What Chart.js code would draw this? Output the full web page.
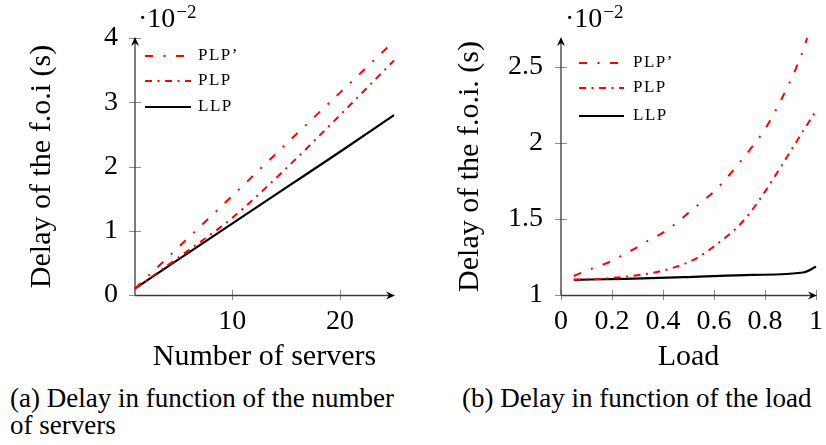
<!DOCTYPE html>
<html>
<head>
<meta charset="utf-8">
<script src="https://cdn.jsdelivr.net/npm/chart.js@4/dist/chart.umd.min.js"></script>
<style>
  html, body { margin: 0; padding: 0; background: #fff; }
  body { width: 826px; height: 445px; position: relative; overflow: hidden; font-family: 'Liberation Serif', serif; }
  canvas { position: absolute; top: 0; }
  #serversChart { left: 0; }
  #loadChart { left: 413px; }
  .caption { position: absolute; font-size: 27px; line-height: 27px; color: #000; white-space: nowrap; }
</style>
</head>
<body>
<canvas id="serversChart" width="413" height="380"></canvas>
<canvas id="loadChart" width="420" height="380"></canvas>
<div class="caption" style="left:10px; top:385px;">(a) Delay in function of the number<br>of servers</div>
<div class="caption" style="left:462px; top:385px;">(b) Delay in function of the load</div>
<script>
// delay (x 10^-2 s) against the number of servers
const servers = [1, 5, 10, 15, 20, 25];
const serversPlpPrime = [0.1, 0.74, 1.54, 2.35, 3.15, 3.95];
const serversPlp = [0.1, 0.58, 1.2, 1.97, 2.8, 3.65];
const serversLlp = [0.1, 0.55, 1.11, 1.67, 2.23, 2.8];
const serversXTicks = [10, 20];
const serversYTicks = [0, 1, 2, 3, 4];

// delay (x 10^-2 s) against the load
const loads = [0.05, 0.1, 0.15, 0.2, 0.25, 0.3, 0.35, 0.4, 0.45, 0.5,
               0.55, 0.6, 0.65, 0.7, 0.75, 0.8, 0.85, 0.9, 0.95, 1.0];
const loadsPlpPrime = [0.05, 0.1, 0.15, 0.2, 0.25, 0.3, 0.35, 0.4, 0.45, 0.5,
                       0.55, 0.6, 0.65, 0.7, 0.75, 0.8, 0.85, 0.9, 0.95, 0.965];
const loadPlpPrime = [1.125, 1.16, 1.19, 1.225, 1.27, 1.315, 1.365, 1.41, 1.47, 1.54,
                      1.61, 1.68, 1.77, 1.87, 1.975, 2.09, 2.24, 2.41, 2.61, 2.69];
const loadPlp = [1.10, 1.103, 1.106, 1.112, 1.12, 1.13, 1.143, 1.16, 1.185, 1.215,
                 1.26, 1.32, 1.385, 1.46, 1.56, 1.68, 1.81, 1.945, 2.08, 2.21];
const loadsLlp = [0.05, 0.25, 0.5, 0.75, 0.95, 1.0];
const loadLlp = [1.10, 1.106, 1.118, 1.132, 1.148, 1.185];
const loadXTicks = [0, 0.2, 0.4, 0.6, 0.8, 1];
const loadYTicks = [1, 1.5, 2, 2.5];

const seriesNames = ['PLP\u2019', 'PLP', 'LLP'];

const SERIF = "'Liberation Serif'";
Chart.defaults.font.family = SERIF + ', serif';
Chart.defaults.color = '#000';

const toPoints = (xs, ys) => xs.map((x, i) => ({ x: x, y: ys[i] }));

function makeDatasets(plpPrime, plp, llp) {
  const base = { pointRadius: 0, fill: false, clip: false, cubicInterpolationMode: 'monotone' };
  return [
    Object.assign({}, base, { label: seriesNames[0], data: plpPrime, borderColor: '#ff0000', borderWidth: 2, borderDash: [8, 10.5, 2, 10.5] }),
    Object.assign({}, base, { label: seriesNames[1], data: plp, borderColor: '#ff0000', borderWidth: 2, borderDash: [7, 5.5, 2, 5.5] }),
    Object.assign({}, base, { label: seriesNames[2], data: llp, borderColor: '#000000', borderWidth: 2.2 })
  ];
}

function arrowHead(ctx, x, y, dx, dy) {
  const nx = -dy, ny = dx;
  ctx.beginPath();
  ctx.moveTo(x + dx, y + dy);
  ctx.lineTo(x - 8 * dx + 4 * nx, y - 8 * dy + 4 * ny);
  ctx.lineTo(x - 5 * dx, y - 5 * dy);
  ctx.lineTo(x - 8 * dx - 4 * nx, y - 8 * dy - 4 * ny);
  ctx.closePath();
  ctx.fill();
}

// axes with arrows, ticks crossing the axis lines, the 10^-2 factor and the legend
const axisDecor = {
  id: 'axisDecor',
  beforeDatasetsDraw(chart) {
    const { ctx, chartArea: ca, scales: { x, y } } = chart;
    ctx.save();
    ctx.strokeStyle = '#8c8c8c';
    ctx.lineWidth = 1;
    y.ticks.forEach(t => {
      const p = Math.round(y.getPixelForValue(t.value)) + 0.5;
      ctx.beginPath(); ctx.moveTo(ca.left - 6, p); ctx.lineTo(ca.left + 6, p); ctx.stroke();
    });
    x.ticks.forEach(t => {
      const p = Math.round(x.getPixelForValue(t.value)) + 0.5;
      ctx.beginPath(); ctx.moveTo(p, ca.bottom - 5); ctx.lineTo(p, ca.bottom + 5); ctx.stroke();
    });
    ctx.strokeStyle = '#3a3a3a';
    ctx.lineWidth = 1.3;
    ctx.beginPath();
    ctx.moveTo(ca.left, ca.bottom + 0.5);
    ctx.lineTo(ca.right - 3, ca.bottom + 0.5);
    ctx.moveTo(ca.left, ca.bottom);
    ctx.lineTo(ca.left, ca.top + 3);
    ctx.stroke();
    ctx.fillStyle = '#000';
    arrowHead(ctx, ca.right, ca.bottom + 0.5, 1, 0);
    arrowHead(ctx, ca.left, ca.top, 0, -1);
    ctx.restore();
  },
  afterDraw(chart, args, opts) {
    const { ctx, chartArea: ca } = chart;
    ctx.save();
    ctx.fillStyle = '#000';
    ctx.textBaseline = 'alphabetic';
    ctx.font = '28px ' + SERIF;
    const ex = ca.left + opts.expDx;
    ctx.fillText('\u00b710', ex, 27);
    const w = ctx.measureText('\u00b710').width;
    ctx.font = '19px ' + SERIF;
    ctx.fillText('\u22122', ex + w + 1, 18);

    ctx.font = '17px ' + SERIF;
    ctx.letterSpacing = '1.5px';
    ctx.textBaseline = 'middle';
    chart.data.datasets.forEach((ds, i) => {
      const yy = ca.top + opts.rows[i];
      ctx.strokeStyle = ds.borderColor;
      ctx.lineWidth = ds.borderWidth;
      ctx.setLineDash(ds.borderDash || []);
      ctx.beginPath();
      ctx.moveTo(ca.left + opts.lineFrom, yy);
      ctx.lineTo(ca.left + opts.lineTo, yy);
      ctx.stroke();
      ctx.fillText(ds.label, ca.left + opts.textX, yy);
    });
    ctx.restore();
  }
};

function linearAxis(cfg) {
  return {
    type: 'linear',
    min: cfg.min,
    max: cfg.max,
    grid: { display: false, drawTicks: false },
    border: { display: false },
    ticks: { padding: cfg.padding, font: { size: 28 }, color: '#000', autoSkip: false, maxRotation: 0,
             callback: v => String(v) },
    afterBuildTicks: s => { s.ticks = cfg.ticks.map(v => ({ value: v })); },
    afterFit: s => { if (cfg.width) s.width = cfg.width; if (cfg.height) s.height = cfg.height; },
    title: { display: true, text: cfg.title, font: { size: 30 }, color: '#000', padding: cfg.titlePadding }
  };
}

function makeChart(id, datasets, xAxis, yAxis, padRight, decor) {
  return new Chart(document.getElementById(id).getContext('2d'), {
    type: 'line',
    data: { datasets: datasets },
    options: {
      responsive: false,
      animation: false,
      layout: { padding: { left: 0, top: 38, right: padRight, bottom: 0 } },
      scales: { x: xAxis, y: yAxis },
      plugins: { legend: { display: false }, tooltip: { enabled: false }, axisDecor: decor }
    },
    plugins: [axisDecor]
  });
}

function drawCharts() {
  makeChart('serversChart',
    makeDatasets(toPoints(servers, serversPlpPrime), toPoints(servers, serversPlp), toPoints(servers, serversLlp)),
    linearAxis({ min: 1, max: 25, ticks: serversXTicks, padding: 10, height: 85, title: 'Number of servers', titlePadding: { top: 0, bottom: 5 } }),
    linearAxis({ min: 0, max: 4, ticks: serversYTicks, padding: 17, width: 135, title: 'Delay of the f.o.i (s)', titlePadding: { top: 24, bottom: 0 } }),
    19,
    { expDx: 3, lineFrom: 10, lineTo: 56, textX: 63, rows: [18, 43, 69] });

  makeChart('loadChart',
    makeDatasets(toPoints(loadsPlpPrime, loadPlpPrime), toPoints(loads, loadPlp), toPoints(loadsLlp, loadLlp)),
    linearAxis({ min: 0, max: 1, ticks: loadXTicks, padding: 10, height: 85, title: 'Load', titlePadding: { top: 0, bottom: 5 } }),
    linearAxis({ min: 1, max: 2.69, ticks: loadYTicks, padding: 18, width: 148, title: 'Delay of the f.o.i. (s)', titlePadding: { top: 39, bottom: 0 } }),
    13,
    { expDx: 4, lineFrom: 18, lineTo: 63, textX: 72, rows: [25, 50, 78] });
}

// canvas text needs the serif face loaded before the first paint
Promise.all([
  document.fonts.load('28px ' + SERIF),
  document.fonts.load('17px ' + SERIF)
]).then(drawCharts, drawCharts);
</script>
</body>
</html>
